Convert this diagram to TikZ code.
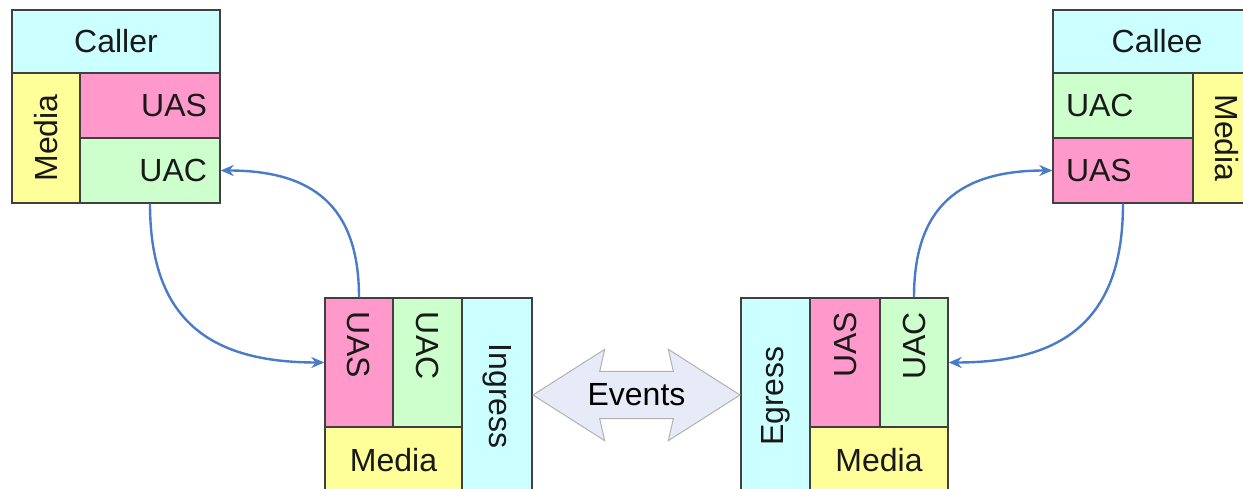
\documentclass[tikz,border=0pt]{standalone}
\usepackage{fontspec}
\setmainfont{Liberation Sans}
\usetikzlibrary{shapes.arrows,arrows.meta}

\definecolor{cellcyan}{HTML}{CCFFFF}
\definecolor{cellyellow}{HTML}{FFFF99}
\definecolor{cellpink}{HTML}{FF99CC}
\definecolor{cellgreen}{HTML}{CCFFCC}
\definecolor{celledge}{HTML}{404040}
\definecolor{linkblue}{HTML}{4A7BC8}
\definecolor{eventfill}{HTML}{E6EBF7}

\begin{document}
\begin{tikzpicture}[
        x=1pt, y=1pt,
        font=\fontsize{32}{38}\selectfont,
        cell/.style={rectangle, draw=celledge, line width=1.4pt, fill=#1, inner sep=0pt, text=black!90},
        link/.style={-{Stealth[length=13pt, width=11pt]}, line width=2.4pt, draw=linkblue, looseness=1.25},
        events/.style={double arrow, draw=black!30, line width=1pt, fill=eventfill,
            minimum height=207pt, inner xsep=2pt, inner ysep=12pt,
            double arrow head extend=22pt, double arrow tip angle=65, double arrow head indent=5pt}
    ]
    \clip (0,0) rectangle (1243,-489);
    \fill[white] (0,0) rectangle (1243,-489);

    % Caller (top left)
    \node[cell=cellcyan, minimum width=208pt, minimum height=63pt] (caller) at (116,-41.5) {Caller};
    \node[cell=cellyellow, rotate=90, minimum width=130pt, minimum height=68pt] (callermedia) at (46,-138) {Media};
    \node[cell=cellpink, minimum width=140pt, minimum height=65pt, text width=114pt, align=right] (calleruas) at (150,-105.5) {UAS};
    \node[cell=cellgreen, minimum width=140pt, minimum height=65pt, text width=114pt, align=right] (calleruac) at (150,-170.5) {UAC};

    % Callee (top right)
    \node[cell=cellcyan, minimum width=208pt, minimum height=63pt] (callee) at (1157,-41.5) {Callee};
    \node[cell=cellgreen, minimum width=140pt, minimum height=65pt, text width=114pt, align=left] (calleeuac) at (1123,-105.5) {UAC};
    \node[cell=cellpink, minimum width=140pt, minimum height=65pt, text width=114pt, align=left] (calleeuas) at (1123,-170.5) {UAS};
    \node[cell=cellyellow, rotate=-90, minimum width=130pt, minimum height=68pt] (calleemedia) at (1227,-138) {Media};

    % Ingress side
    \node[cell=cellpink, rotate=-90, minimum width=129pt, minimum height=68pt, text width=101pt, align=left] (inuas) at (359,-362.5) {UAS};
    \node[cell=cellgreen, rotate=-90, minimum width=129pt, minimum height=69pt, text width=101pt, align=left] (inuac) at (427.5,-362.5) {UAC};
    \node[cell=cellcyan, rotate=-90, minimum width=196pt, minimum height=70pt] (ingress) at (497,-396) {Ingress};
    \node[cell=cellyellow, minimum width=137pt, minimum height=67pt] (inmedia) at (393.5,-460.5) {Media};

    % Egress side
    \node[cell=cellcyan, rotate=90, minimum width=196pt, minimum height=69pt] (egress) at (775.5,-396) {Egress};
    \node[cell=cellpink, rotate=90, minimum width=129pt, minimum height=70pt, text width=101pt, align=right] (eguas) at (845,-362.5) {UAS};
    \node[cell=cellgreen, rotate=90, minimum width=129pt, minimum height=68pt, text width=101pt, align=right] (eguac) at (914,-362.5) {UAC};
    \node[cell=cellyellow, minimum width=138pt, minimum height=67pt] (egmedia) at (879,-460.5) {Media};

    \node[events] (evt) at (636.5,-395) {Events};

    % Signalling legs
    \draw[link] (calleruac.south) to[out=-90, in=180] (inuas.south);
    \draw[link] (inuas.west) to[out=90, in=0] (calleruac.east);
    \draw[link] (eguac.east) to[out=90, in=180] (calleeuas.west);
    \draw[link] (calleeuas.south) to[out=-90, in=0] (eguac.south);
\end{tikzpicture}
\end{document}
